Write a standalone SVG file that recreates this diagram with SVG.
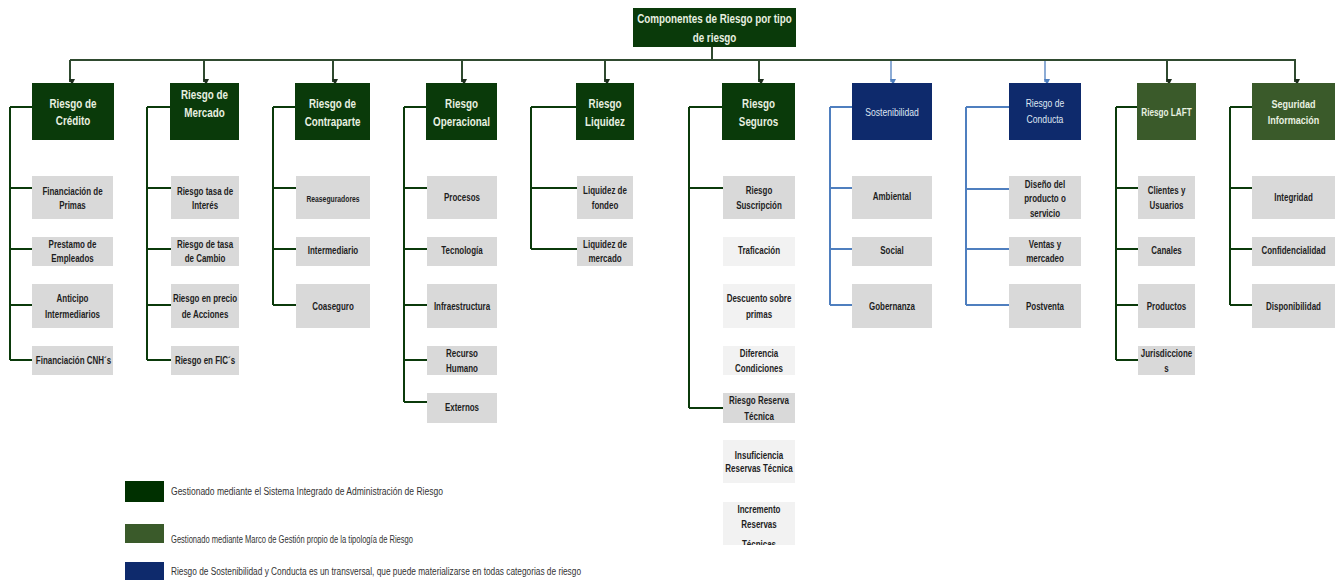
<svg xmlns="http://www.w3.org/2000/svg" width="1335" height="584" viewBox="0 0 1335 584">
<style>
.bg{fill:#ffffff}
.dg{fill:#0a3a0a}
.lg{fill:#3a5a2a}
.bl{fill:#0e2a6c}
.gr{fill:#d9d9d9}
.lt{fill:#f2f2f2}
.t1{font-family:"Liberation Sans",Arial,sans-serif;font-weight:bold;font-size:12px;fill:#e8f0e0;text-anchor:middle}
.tb{font-family:"Liberation Sans",Arial,sans-serif;font-size:10px;fill:#dfe6f2;text-anchor:middle}
.t2{font-family:"Liberation Sans",Arial,sans-serif;font-weight:bold;font-size:10.5px;fill:#1e1e1e;text-anchor:middle}
.lgd{font-family:"Liberation Sans",Arial,sans-serif;font-size:10px;fill:#333333}
.cg{stroke:#0b3a0b;stroke-width:2;fill:none}
.cb{stroke:#4f7fbf;stroke-width:2;fill:none}
.bus{stroke:#2f4a2f;stroke-width:2;fill:none}
</style>
<defs>
<marker id="ag" markerWidth="6" markerHeight="6" refX="3" refY="5" orient="auto-start-reverse" markerUnits="userSpaceOnUse" viewBox="0 0 6 6"><path d="M0,0 L6,0 L3,6 Z" fill="#1e2e1e" transform="rotate(-90 3 3)"/></marker>
<marker id="ab" markerWidth="6" markerHeight="6" refX="3" refY="5" orient="auto-start-reverse" markerUnits="userSpaceOnUse" viewBox="0 0 6 6"><path d="M0,0 L6,0 L3,6 Z" fill="#4f7fbf" transform="rotate(-90 3 3)"/></marker>
<clipPath id="clipG"><rect x="-100" y="502" width="200" height="43"/></clipPath>
</defs>
<rect class="bg" x="0" y="0" width="1335" height="584"/>

<g id="connectors">
<path class="bus" d="M712,47 V60 M70,60 H1296"/>
<path class="bus" d="M70,60 V82" marker-end="url(#ag)"/>
<path class="bus" d="M204,60 V82" marker-end="url(#ag)"/>
<path class="bus" d="M333,60 V82" marker-end="url(#ag)"/>
<path class="bus" d="M462,60 V82" marker-end="url(#ag)"/>
<path class="bus" d="M605,60 V82" marker-end="url(#ag)"/>
<path class="bus" d="M759,60 V82" marker-end="url(#ag)"/>
<path class="cb" style="stroke-width:1.3" d="M891,61 V82" marker-end="url(#ab)"/>
<path class="cb" style="stroke-width:1.3" d="M1045,61 V82" marker-end="url(#ab)"/>
<path class="bus" d="M1167,60 V82" marker-end="url(#ag)"/>
<path class="bus" d="M1295,60 V82" marker-end="url(#ag)"/>
<path class="cg" d="M10,107 V360 M10,107 H32 M10,188 H32 M10,249 H32 M10,305 H32 M10,360 H32"/>
<path class="cg" d="M147,107 V360 M147,107 H170 M147,188 H171 M147,249 H171 M147,305 H171 M147,360 H171"/>
<path class="cg" d="M273,107 V305 M273,107 H295 M273,188 H296 M273,249 H296 M273,305 H296"/>
<path class="cg" d="M404,107 V402 M404,107 H426 M404,188 H427 M404,249 H427 M404,305 H427 M404,360 H427 M404,402 H427"/>
<path class="cg" d="M531,107 V249 M531,107 H576 M531,188 H577 M531,249 H577"/>
<path class="cg" d="M689,107 V408 M689,107 H722 M689,188 H723 M689,408 H723"/>
<path class="cb" d="M830,107 V305 M830,107 H852 M830,188 H852 M830,249 H852 M830,305 H852"/>
<path class="cb" d="M966,107 V305 M966,107 H1009 M966,189 H1009 M966,249 H1009 M966,305 H1009"/>
<path class="cg" d="M1116,107 V360 M1116,107 H1137 M1116,188 H1138 M1116,249 H1138 M1116,305 H1138 M1116,360 H1138"/>
<path class="cg" d="M1230,107 V305 M1230,107 H1252 M1230,188 H1252 M1230,249 H1252 M1230,305 H1252"/>
</g>

<g id="root"><rect class="dg" x="633" y="8" width="163" height="39"/><g transform="translate(714.5 0) scale(.82 1)"><text class="t1" x="0" y="23">Componentes de Riesgo por tipo</text><text class="t1" x="0" y="42">de riesgo</text></g></g>

<g id="credito"><rect class="dg" x="32" y="83" width="82" height="57"/><g transform="translate(73 0) scale(.82 1)"><text class="t1" x="0" y="108">Riesgo de</text><text class="t1" x="0" y="125">Crédito</text></g></g>
<g id="mercado"><rect class="dg" x="170" y="83" width="69" height="57"/><g transform="translate(204.5 0) scale(.82 1)"><text class="t1" x="0" y="99">Riesgo de</text><text class="t1" x="0" y="117">Mercado</text></g></g>
<g id="contraparte"><rect class="dg" x="295" y="83" width="75" height="57"/><g transform="translate(332.5 0) scale(.82 1)"><text class="t1" x="0" y="108">Riesgo de</text><text class="t1" x="0" y="126">Contraparte</text></g></g>
<g id="operacional"><rect class="dg" x="426" y="83" width="71" height="57"/><g transform="translate(461.5 0) scale(.82 1)"><text class="t1" x="0" y="108">Riesgo</text><text class="t1" x="0" y="126">Operacional</text></g></g>
<g id="liquidez"><rect class="dg" x="576" y="83" width="58" height="57"/><g transform="translate(605 0) scale(.82 1)"><text class="t1" x="0" y="108">Riesgo</text><text class="t1" x="0" y="126">Liquidez</text></g></g>
<g id="seguros"><rect class="dg" x="722" y="83" width="73" height="57"/><g transform="translate(758.5 0) scale(.82 1)"><text class="t1" x="0" y="108">Riesgo</text><text class="t1" x="0" y="126">Seguros</text></g></g>
<g id="sostenibilidad"><rect class="bl" x="852" y="83" width="80" height="57"/><g transform="translate(892 0) scale(.86 1)"><text class="tb" x="0" y="116.5">Sostenibilidad</text></g></g>
<g id="conducta"><rect class="bl" x="1009" y="83" width="72" height="57"/><g transform="translate(1045 0) scale(.86 1)"><text class="tb" x="0" y="107.5">Riesgo de</text><text class="tb" x="0" y="123.5">Conducta</text></g></g>
<g id="laft"><rect class="lg" x="1137" y="83" width="59" height="57"/><g transform="translate(1166.5 0) scale(.82 1)"><text class="t1" style="font-size:10px" x="0" y="116.5">Riesgo LAFT</text></g></g>
<g id="seguridad"><rect class="lg" x="1252" y="83" width="83" height="57"/><g transform="translate(1293.5 0) scale(.82 1)"><text class="t1" style="font-size:11px" x="0" y="108">Seguridad</text><text class="t1" style="font-size:11px" x="0" y="124">Información</text></g></g>

<g id="c1a"><rect class="gr" x="32" y="176" width="81" height="43"/><g transform="translate(72.5 0) scale(.76 1)"><text class="t2" x="0" y="195">Financiación de</text><text class="t2" x="0" y="209.5">Primas</text></g></g>
<g id="c1b"><rect class="gr" x="32" y="237" width="81" height="29"/><g transform="translate(72.5 0) scale(.76 1)"><text class="t2" x="0" y="248.5">Prestamo de</text><text class="t2" x="0" y="262.5">Empleados</text></g></g>
<g id="c1c"><rect class="gr" x="32" y="284" width="81" height="44"/><g transform="translate(72.5 0) scale(.76 1)"><text class="t2" x="0" y="302.5">Anticipo</text><text class="t2" x="0" y="318.5">Intermediarios</text></g></g>
<g id="c1d"><rect class="gr" x="32" y="346" width="81" height="29"/><g transform="translate(73.5 0) scale(.76 1)"><text class="t2" x="0" y="364.5">Financiación CNH´s</text></g></g>

<g id="c2a"><rect class="gr" x="171" y="176" width="68" height="43"/><g transform="translate(205 0) scale(.76 1)"><text class="t2" x="0" y="195">Riesgo tasa de</text><text class="t2" x="0" y="209.5">Interés</text></g></g>
<g id="c2b"><rect class="gr" x="171" y="237" width="68" height="29"/><g transform="translate(205 0) scale(.76 1)"><text class="t2" x="0" y="248.5">Riesgo de tasa</text><text class="t2" x="0" y="262.5">de Cambio</text></g></g>
<g id="c2c"><rect class="gr" x="171" y="284" width="68" height="44"/><g transform="translate(205 0) scale(.76 1)"><text class="t2" x="0" y="302.5">Riesgo en precio</text><text class="t2" x="0" y="318.5">de Acciones</text></g></g>
<g id="c2d"><rect class="gr" x="171" y="346" width="68" height="29"/><g transform="translate(205 0) scale(.76 1)"><text class="t2" x="0" y="364.5">Riesgo en FIC´s</text></g></g>

<g id="c3a"><rect class="gr" x="296" y="176" width="74" height="43"/><g transform="translate(333 0) scale(.8 1)"><text class="t2" style="font-size:8.5px" x="0" y="202">Reaseguradores</text></g></g>
<g id="c3b"><rect class="gr" x="296" y="237" width="74" height="29"/><g transform="translate(333 0) scale(.76 1)"><text class="t2" x="0" y="254.5">Intermediario</text></g></g>
<g id="c3c"><rect class="gr" x="296" y="284" width="74" height="44"/><g transform="translate(333 0) scale(.76 1)"><text class="t2" x="0" y="310.5">Coaseguro</text></g></g>

<g id="c4a"><rect class="gr" x="427" y="176" width="70" height="43"/><g transform="translate(462 0) scale(.76 1)"><text class="t2" x="0" y="201.5">Procesos</text></g></g>
<g id="c4b"><rect class="gr" x="427" y="237" width="70" height="29"/><g transform="translate(462 0) scale(.76 1)"><text class="t2" x="0" y="254.5">Tecnología</text></g></g>
<g id="c4c"><rect class="gr" x="427" y="284" width="70" height="44"/><g transform="translate(462 0) scale(.76 1)"><text class="t2" x="0" y="310.5">Infraestructura</text></g></g>
<g id="c4d"><rect class="gr" x="427" y="346" width="70" height="29"/><g transform="translate(462 0) scale(.76 1)"><text class="t2" x="0" y="357.5">Recurso</text><text class="t2" x="0" y="372.5">Humano</text></g></g>
<g id="c4e"><rect class="gr" x="427" y="393" width="70" height="30"/><g transform="translate(462 0) scale(.76 1)"><text class="t2" x="0" y="411.5">Externos</text></g></g>

<g id="c5a"><rect class="gr" x="577" y="176" width="56" height="43"/><g transform="translate(605 0) scale(.76 1)"><text class="t2" x="0" y="194.5">Liquidez de</text><text class="t2" x="0" y="209.5">fondeo</text></g></g>
<g id="c5b"><rect class="gr" x="577" y="237" width="56" height="29"/><g transform="translate(605 0) scale(.76 1)"><text class="t2" x="0" y="248.5">Liquidez de</text><text class="t2" x="0" y="262.5">mercado</text></g></g>

<g id="c6a"><rect class="gr" x="723" y="176" width="72" height="43"/><g transform="translate(759 0) scale(.76 1)"><text class="t2" x="0" y="194.5">Riesgo</text><text class="t2" x="0" y="209.5">Suscripción</text></g></g>
<g id="c6b"><rect class="lt" x="723" y="237" width="72" height="29"/><g transform="translate(759 0) scale(.76 1)"><text class="t2" x="0" y="254.5">Traficación</text></g></g>
<g id="c6c"><rect class="lt" x="723" y="284" width="72" height="44"/><g transform="translate(759 0) scale(.76 1)"><text class="t2" x="0" y="302.5">Descuento sobre</text><text class="t2" x="0" y="318.5">primas</text></g></g>
<g id="c6d"><rect class="lt" x="723" y="346" width="72" height="29"/><g transform="translate(759 0) scale(.76 1)"><text class="t2" x="0" y="357.5">Diferencia</text><text class="t2" x="0" y="372.5">Condiciones</text></g></g>
<g id="c6e"><rect class="gr" x="723" y="393" width="72" height="30"/><g transform="translate(759 0) scale(.76 1)"><text class="t2" x="0" y="404">Riesgo Reserva</text><text class="t2" x="0" y="420">Técnica</text></g></g>
<g id="c6f"><rect class="lt" x="723" y="440" width="72" height="43"/><g transform="translate(759 0) scale(.76 1)"><text class="t2" x="0" y="459.5">Insuficiencia</text><text class="t2" x="0" y="472.5">Reservas Técnica</text></g></g>
<g id="c6g"><rect class="lt" x="723" y="502" width="72" height="43"/><g transform="translate(759 0) scale(.76 1)"><g clip-path="url(#clipG)"><text class="t2" x="0" y="513.5">Incremento</text><text class="t2" x="0" y="528.5">Reservas</text><text class="t2" x="0" y="548.5">Técnicas</text></g></g></g>

<g id="c7a"><rect class="gr" x="852" y="176" width="80" height="43"/><g transform="translate(892 0) scale(.76 1)"><text class="t2" x="0" y="200.5">Ambiental</text></g></g>
<g id="c7b"><rect class="gr" x="852" y="237" width="80" height="29"/><g transform="translate(892 0) scale(.76 1)"><text class="t2" x="0" y="254.5">Social</text></g></g>
<g id="c7c"><rect class="gr" x="852" y="284" width="80" height="44"/><g transform="translate(892 0) scale(.76 1)"><text class="t2" x="0" y="310.5">Gobernanza</text></g></g>

<g id="c8a"><rect class="gr" x="1009" y="176" width="72" height="43"/><g transform="translate(1045 0) scale(.76 1)"><text class="t2" x="0" y="188.5">Diseño del</text><text class="t2" x="0" y="202.5">producto o</text><text class="t2" x="0" y="217">servicio</text></g></g>
<g id="c8b"><rect class="gr" x="1009" y="237" width="72" height="29"/><g transform="translate(1045 0) scale(.76 1)"><text class="t2" x="0" y="248.5">Ventas y</text><text class="t2" x="0" y="262.5">mercadeo</text></g></g>
<g id="c8c"><rect class="gr" x="1009" y="284" width="72" height="44"/><g transform="translate(1045 0) scale(.76 1)"><text class="t2" x="0" y="310.5">Postventa</text></g></g>

<g id="c9a"><rect class="gr" x="1138" y="176" width="57" height="43"/><g transform="translate(1166.5 0) scale(.76 1)"><text class="t2" x="0" y="194.5">Clientes y</text><text class="t2" x="0" y="209.5">Usuarios</text></g></g>
<g id="c9b"><rect class="gr" x="1138" y="237" width="57" height="29"/><g transform="translate(1166.5 0) scale(.76 1)"><text class="t2" x="0" y="254.5">Canales</text></g></g>
<g id="c9c"><rect class="gr" x="1138" y="284" width="57" height="44"/><g transform="translate(1166.5 0) scale(.76 1)"><text class="t2" x="0" y="310.5">Productos</text></g></g>
<g id="c9d"><rect class="gr" x="1138" y="346" width="57" height="29"/><g transform="translate(1166.5 0) scale(.76 1)"><text class="t2" x="0" y="357.5">Jurisdiccione</text><text class="t2" x="0" y="372.5">s</text></g></g>

<g id="c10a"><rect class="gr" x="1252" y="176" width="83" height="43"/><g transform="translate(1293.5 0) scale(.76 1)"><text class="t2" x="0" y="201.5">Integridad</text></g></g>
<g id="c10b"><rect class="gr" x="1252" y="237" width="83" height="29"/><g transform="translate(1293.5 0) scale(.76 1)"><text class="t2" x="0" y="254.5">Confidencialidad</text></g></g>
<g id="c10c"><rect class="gr" x="1252" y="284" width="83" height="44"/><g transform="translate(1293.5 0) scale(.76 1)"><text class="t2" x="0" y="310.5">Disponibilidad</text></g></g>

<g id="legend">
<rect x="125" y="481" width="39" height="21" style="fill:#003000"/>
<text class="lgd" x="171" y="494.5" textLength="272" lengthAdjust="spacingAndGlyphs">Gestionado mediante el Sistema Integrado de Administración de Riesgo</text>
<rect class="lg" x="125" y="524" width="39" height="19"/>
<text class="lgd" x="171" y="542.5" textLength="242" lengthAdjust="spacingAndGlyphs">Gestionado mediante Marco de Gestión propio de la tipología de Riesgo</text>
<rect class="bl" x="125" y="562" width="39" height="18"/>
<text class="lgd" x="171" y="574.5" textLength="410" lengthAdjust="spacingAndGlyphs">Riesgo de Sostenibilidad  y Conducta es un transversal, que puede materializarse en todas categorias de riesgo</text>
</g>
</svg>
